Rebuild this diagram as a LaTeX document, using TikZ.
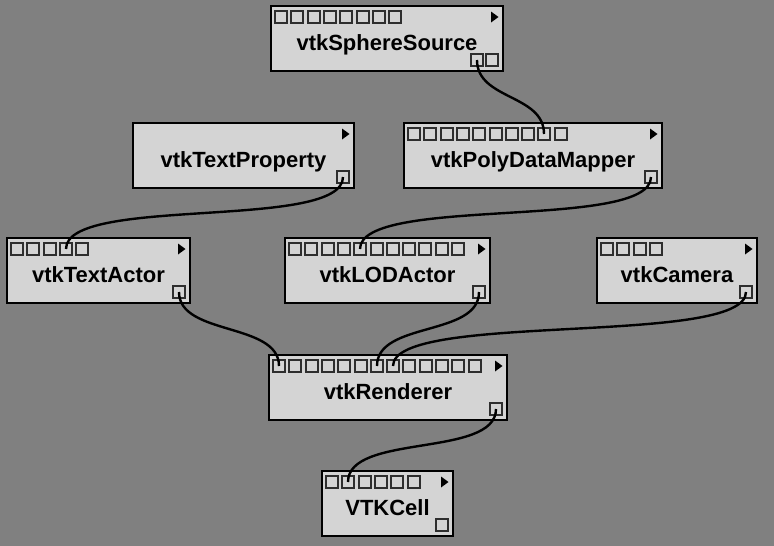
\documentclass[tikz,border=0pt]{standalone}
\usepackage{fontspec}
\setmainfont{Liberation Sans}
\definecolor{canvas}{HTML}{808080}
\definecolor{modfill}{HTML}{D4D4D4}
\definecolor{portline}{HTML}{2E2E2E}
\tikzset{
  module/.style={draw=black, line width=2pt, fill=modfill, minimum height=65pt,
    inner sep=0pt, outer sep=0pt, anchor=north west},
  port/.style={draw=portline, line width=1.2pt, fill=modfill, minimum size=12pt,
    inner sep=0pt, outer sep=0pt},
  modlabel/.style={font=\bfseries\fontsize{22pt}{24pt}\selectfont, anchor=base},
  wire/.style={line width=2.4pt, black},
}
% name, left, top, width, label, inputs, outputs
\newcommand{\vtmodule}[7]{%
  \node[module, minimum width=#4pt] (#1) at (#2,#3) {};
  \path (#1.north) ++(0,44) node[modlabel] (#1-label) {#5};
  \fill (#1.north east) ++(-12,5.5) -- ++(7.5,5.5) -- ++(-7.5,5.5) -- cycle;
  \ifnum#6>0
    \foreach \i in {1,...,#6}
      \path (#1.north west) ++({round(16.3*(\i-1))+10},11) node[port] (#1-in\i) {};
  \fi
  \foreach \j in {1,...,#7}
    \path (#1.south east) ++({-11-15*(#7-\j)},-11) node[port] (#1-out\j) {};
}
\begin{document}
\begin{tikzpicture}[x=1pt,y=-1pt]
  \useasboundingbox (0,0) rectangle (774,546);
  \fill[canvas] (0,0) rectangle (774,546);

  % modules
  \vtmodule{sphere}{271}{6}{232}{vtkSphereSource}{8}{2}
  \vtmodule{mapper}{404}{123}{258}{vtkPolyDataMapper}{10}{1}
  \vtmodule{textprop}{133}{123}{221}{vtkTextProperty}{0}{1}
  \vtmodule{textactor}{7}{238}{183}{vtkTextActor}{5}{1}
  \vtmodule{lodactor}{285}{238}{205}{vtkLODActor}{11}{1}
  \vtmodule{camera}{597}{238}{160}{vtkCamera}{4}{1}
  \vtmodule{renderer}{269}{355}{238}{vtkRenderer}{13}{1}
  \vtmodule{cell}{322}{471}{131}{VTKCell}{6}{1}

  % connections
  \draw[wire] (sphere-out1.center) .. controls +(0,40) and +(0,-40) .. (mapper-in9.center);
  \draw[wire] (mapper-out1.center) .. controls +(0,54) and +(0,-54) .. (lodactor-in5.center);
  \draw[wire] (textprop-out1.center) .. controls +(0,54) and +(0,-54) .. (textactor-in4.center);
  \draw[wire] (textactor-out1.center) .. controls +(0,44) and +(0,-44) .. (renderer-in1.center);
  \draw[wire] (lodactor-out1.center) .. controls +(0,45) and +(0,-45) .. (renderer-in7.center);
  \draw[wire] (camera-out1.center) .. controls +(0,55) and +(0,-55) .. (renderer-in8.center);
  \draw[wire] (renderer-out1.center) .. controls +(0,49) and +(0,-49) .. (cell-in2.center);
\end{tikzpicture}
\end{document}
